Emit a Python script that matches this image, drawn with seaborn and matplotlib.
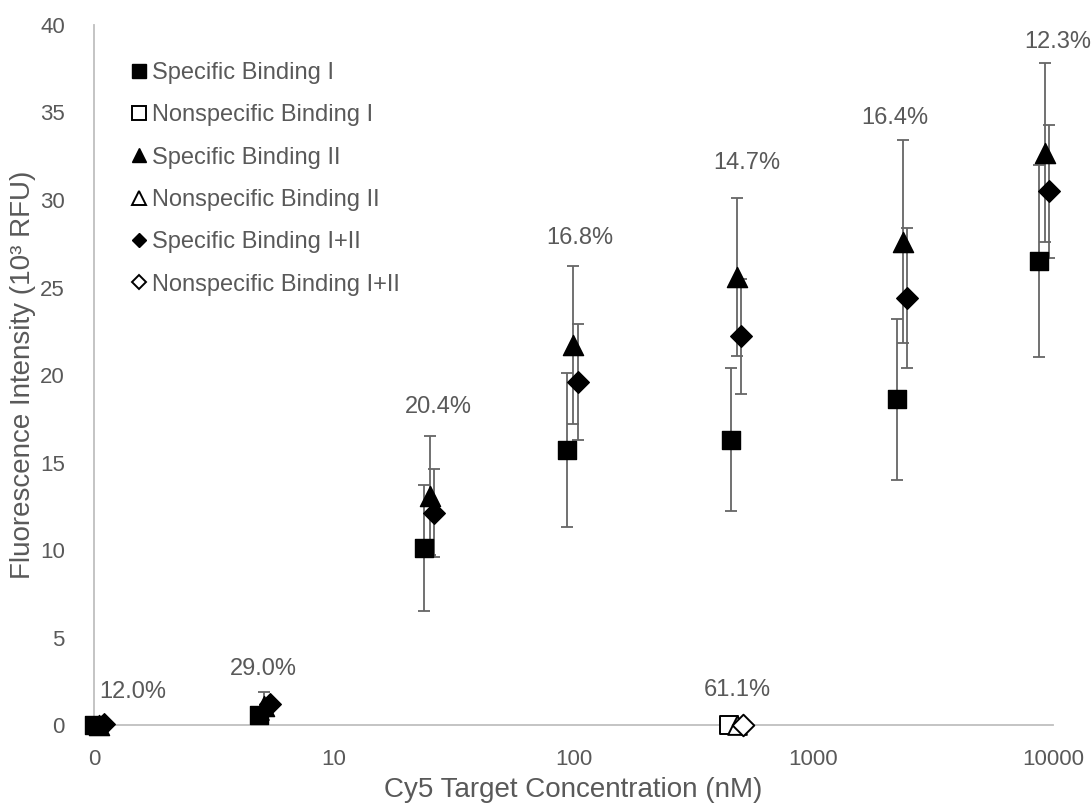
import numpy as np
import pandas as pd
import matplotlib
matplotlib.use("Agg")
import matplotlib.pyplot as plt
import seaborn as sns
from matplotlib.lines import Line2D

sns.set_theme(style="white")
plt.rcParams['font.family'] = ['Liberation Sans', 'DejaVu Sans']

# ---- data ----
spec1_x = [1.0, 4.87, 23.9, 93.7, 455, 2240, 8750]
spec1_y = [0.0, 0.6, 10.1, 15.7, 16.3, 18.6, 26.5]
spec1_err = [0.0, 0.2, 3.6, 4.4, 4.1, 4.6, 5.5]

spec2_x = [1.05, 5.1, 25.2, 99.5, 481, 2368, 9270]
spec2_y = [0.0, 1.1, 13.1, 21.7, 25.6, 27.6, 32.7]
spec2_err = [0.0, 0.8, 3.4, 4.5, 4.5, 5.8, 5.1]

spec12_x = [1.1, 5.4, 26.1, 104, 501, 2460, 9620]
spec12_y = [0.05, 1.2, 12.1, 19.6, 22.2, 24.4, 30.5]
spec12_err = [0.0, 0.3, 2.5, 3.3, 3.3, 4.0, 3.8]

nonspec1_x = [445]
nonspec1_y = [0.0]
nonspec2_x = [481]
nonspec2_y = [0.0]
nonspec12_x = [509]
nonspec12_y = [0.0]

pct_labels = ["12.0%", "29.0%", "20.4%", "16.8%", "14.7%", "61.1%", "16.4%", "12.3%"]
pct_x = [1.45, 5.1, 27.2, 106, 529, 481, 2193, 10490]
pct_y = [1.9, 3.2, 18.2, 27.8, 32.1, 2.0, 34.7, 39.0]

xticks = [1, 10, 100, 1000, 10000]
xtick_labels = ["0", "10", "100", "1000", "10000"]
yticks = [0, 5, 10, 15, 20, 25, 30, 35, 40]

series_names = ["Specific Binding I", "Nonspecific Binding I",
                "Specific Binding II", "Nonspecific Binding II",
                "Specific Binding I+II", "Nonspecific Binding I+II"]

# ---- figure ----
W, H = 1091, 805
fig = plt.figure(figsize=(W / 100, H / 100), dpi=100)
ax = fig.add_axes([94 / W, 1 - 725 / H, (1053 - 94) / W, (725 - 25) / H])

grey = "#595959"
axis_grey = "#bfbfbf"
ecol = "#666666"

ax.set_xscale("log")
ax.set_xlim(1, 10000)
ax.set_ylim(0, 40)

def draw(x, y, err, marker, ms, filled):
    ax.errorbar(x, y, yerr=err, fmt="none", ecolor=ecol, elinewidth=1.3,
                capsize=4.5, capthick=1.3, clip_on=False, zorder=2)
    df = pd.DataFrame({"x": x, "y": y})
    sns.scatterplot(data=df, x="x", y="y", ax=ax, marker=marker, s=ms ** 2,
                    color="black" if filled else "white",
                    edgecolor="black", linewidth=1.0 if filled else 1.4,
                    clip_on=False, zorder=3, legend=False)

draw(spec1_x, spec1_y, spec1_err, "s", 13.5, True)
draw(spec2_x, spec2_y, spec2_err, "^", 14.5, True)
draw(spec12_x, spec12_y, spec12_err, "D", 11, True)
for x, y, m, ms in [(nonspec1_x, nonspec1_y, "s", 12.5),
                    (nonspec2_x, nonspec2_y, "^", 13.5),
                    (nonspec12_x, nonspec12_y, "D", 11)]:
    df = pd.DataFrame({"x": x, "y": y})
    sns.scatterplot(data=df, x="x", y="y", ax=ax, marker=m, s=ms ** 2,
                    color="white", edgecolor="black", linewidth=1.4,
                    clip_on=False, zorder=4, legend=False)

for t, x, y in zip(pct_labels, pct_x, pct_y):
    ax.text(x, y, t, ha="center", va="center", fontsize=17, color=grey)

ax.set_xticks(xticks)
ax.set_xticklabels(xtick_labels)
ax.xaxis.set_minor_locator(matplotlib.ticker.NullLocator())
ax.set_yticks(yticks)
ax.tick_params(axis="both", length=0, labelsize=16, colors=grey)
ax.tick_params(axis="y", pad=21)
ax.tick_params(axis="x", pad=17)

for s in ["top", "right"]:
    ax.spines[s].set_visible(False)
for s in ["left", "bottom"]:
    ax.spines[s].set_color(axis_grey)
    ax.spines[s].set_linewidth(1.3)
ax.set_xlabel("Cy5 Target Concentration (nM)", fontsize=20, color=grey, labelpad=5)
ax.set_ylabel("Fluorescence Intensity (10³ RFU)", fontsize=20, color=grey, labelpad=3)

handles = [
    Line2D([], [], ls="none", marker="s", ms=9.5, mfc="black", mec="black"),
    Line2D([], [], ls="none", marker="s", ms=9.5, mfc="white", mec="black", mew=1.4),
    Line2D([], [], ls="none", marker="^", ms=10.5, mfc="black", mec="black"),
    Line2D([], [], ls="none", marker="^", ms=10.5, mfc="white", mec="black", mew=1.4),
    Line2D([], [], ls="none", marker="D", ms=7, mfc="black", mec="black"),
    Line2D([], [], ls="none", marker="D", ms=7, mfc="white", mec="black", mew=1.4),
]
leg = ax.legend(handles, series_names, loc="upper left",
                bbox_to_anchor=(130 / W, 1 - 62 / H), bbox_transform=fig.transFigure,
                frameon=False, fontsize=17, labelspacing=0.86,
                handlelength=0.8, handletextpad=0.15, borderaxespad=0, borderpad=0)
for t in leg.get_texts():
    t.set_color(grey)

fig.savefig("out.png", dpi=100)
